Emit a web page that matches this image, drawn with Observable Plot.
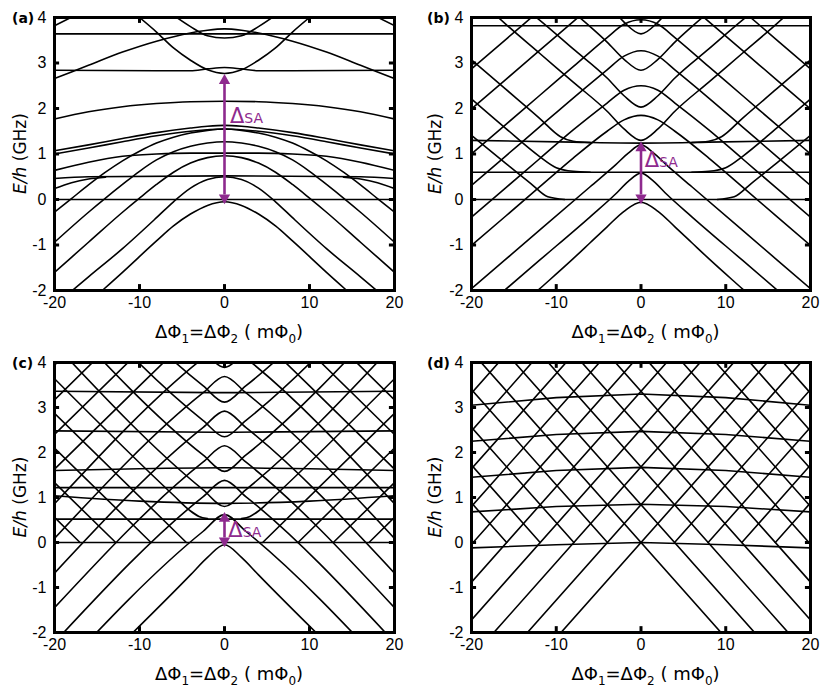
<!DOCTYPE html>
<html><head><meta charset="utf-8">
<script src="https://cdn.jsdelivr.net/npm/d3@7"></script>
<script src="https://cdn.jsdelivr.net/npm/@observablehq/plot@0.6"></script>
<style>
body{margin:0;background:#fff;}
#wrap{position:relative;width:830px;height:697px;background:#fff;}
.pn{position:absolute;}
</style></head><body><div id="wrap"></div>
<script>
const xTicks = [-20,-10,0,10,20];
const xTickLabels = ["-20","-10","0","10","20"];
const yTicks = [-2,-1,0,1,2,3,4];
const yTickLabels = ["-2","-1","0","1","2","3","4"];
const panelNames = ["(a)","(b)","(c)","(d)"];
const deltaLow = [-0.05, -0.05, -0.05];
const deltaHigh = [2.7, 1.22, 0.62];
const deltaTextPos = [[0.7,1.67],[0.5,0.7],[0.5,0.11]];

// panel (a): each curve is a list of x,y pairs
const curvesA = [
  [-20,-2.95,-16,-2.27,-12,-1.6,-8,-0.91,-6,-0.58,-4,-0.32,-2,-0.13,0,-0.05,2,-0.13,4,-0.32,6,-0.58,8,-0.91,12,-1.6,16,-2.27,20,-2.95],
  [-20,-2.33,-16,-1.7,-12,-1.08,-8,-0.4,-6,-0.05,-4,0.25,-2,0.44,0,0.5,2,0.44,4,0.25,6,-0.05,8,-0.4,12,-1.08,16,-1.7,20,-2.33],
  [-20,-1.6,-16,-0.94,-12,-0.28,-10,0.03,-8,0.33,-6,0.6,-4,0.8,-2,0.92,0,0.96,2,0.92,4,0.8,6,0.6,8,0.33,10,0.03,12,-0.28,16,-0.94,20,-1.6],
  [-20,-0.94,-16,-0.28,-14,0.03,-12,0.33,-10,0.62,-8,0.87,-6,1.05,-4,1.17,-2,1.24,0,1.27,2,1.24,4,1.17,6,1.05,8,0.87,10,0.62,12,0.33,14,0.03,16,-0.28,20,-0.94],
  [-20,-0.28,-18,0.02,-16,0.32,-14,0.6,-12,0.85,-10,1.06,-8,1.24,-6,1.37,-4,1.46,-2,1.52,0,1.55,2,1.52,4,1.46,6,1.37,8,1.24,10,1.06,12,0.85,14,0.6,16,0.32,18,0.02,20,-0.28],
  [-20,1.07,-16,1.2,-12,1.34,-8,1.47,-4,1.57,-2,1.61,0,1.63,2,1.61,4,1.57,8,1.47,12,1.34,16,1.2,20,1.07],
  [-20,1.0,-16,1.13,-12,1.27,-8,1.4,-4,1.5,0,1.55,4,1.5,8,1.4,12,1.27,16,1.13,20,1.0],
  [-20,0,-10,0,0,0,10,0,20,0],
  [-20,0.46,-16,0.5,0,0.52,16,0.5,20,0.46],
  [-20,0.24,-18,0.37,-16,0.45,-14,0.49],
  [14,0.49,16,0.45,18,0.37,20,0.24],
  [-20,0.64,-16,0.82,-12,0.95,-8,1.0,-4,1.02,0,1.02,4,1.02,8,1.0,12,0.95,16,0.82,20,0.64],
  [-20,1.77,-16,1.93,-12,2.04,-8,2.11,-4,2.15,0,2.16,4,2.15,8,2.11,12,2.04,16,1.93,20,1.77],
  [-20,2.66,-16,2.95,-12,3.24,-8,3.48,-4,3.66,-2,3.72,0,3.75,2,3.72,4,3.66,8,3.48,12,3.24,16,2.95,20,2.66],
  [-20,2.84,-8,2.83,-4,2.83,-2,2.87,0,2.9,2,2.87,4,2.83,8,2.83,20,2.84],
  [-10,4.0,-8,3.68,-6,3.33,-4,3.06,-2,2.85,0,2.77,2,2.85,4,3.06,6,3.33,8,3.68,10,4.0],
  [-20,3.64,0,3.64,20,3.64],
  [-6,4.05,-4,3.8,-2,3.6,0,3.55,2,3.6,4,3.8,6,4.05],
  [-20,3.82,-17,4.1],
  [17,4.1,20,3.82]
];

// panel (b)
const curvesB = [
  [-20,-3.3,-12,-1.97,-8,-1.3,-6,-0.95,-4,-0.6,-2,-0.26,0,-0.06,2,-0.26,4,-0.6,6,-0.95,8,-1.3,12,-1.97,20,-3.3],
  [-20,-2.62,-12,-1.34,-6,-0.38,-3,0.12,-1.5,0.4,0,0.58,1.5,0.4,3,0.12,6,-0.38,12,-1.34,20,-2.62],
  [-20,-1.96,-12,-0.68,-6,0.28,-3,0.76,-1.5,1.02,0,1.2,1.5,1.02,3,0.76,6,0.28,12,-0.68,20,-1.96],
  [-20,-1.01,-12,0.27,-8,0.91,-4,1.5,-2,1.75,0,1.85,2,1.75,4,1.5,8,0.91,12,0.27,20,-1.01],
  [-20,-0.39,-16,0.25,-12,0.89,-8,1.53,-4,2.12,-2,2.4,0,2.5,2,2.4,4,2.12,8,1.53,12,0.89,16,0.25,20,-0.39],
  [-20,0.31,-16,0.95,-12,1.59,-8,2.23,-4,2.85,-2,3.15,0,3.27,2,3.15,4,2.85,8,2.23,12,1.59,16,0.95,20,0.31],
  [-20,1.0,-16,1.64,-12,2.28,-8,2.92,-4,3.56,-2,3.85,0,3.95,2,3.85,4,3.56,8,2.92,12,2.28,16,1.64,20,1.0],
  [-20,1.99,-16,2.63,-12,3.27,-8,3.91,-6,4.23],
  [6,4.23,8,3.91,12,3.27,16,2.63,20,1.99],
  [-20,2.87,-16,3.51,-12,4.15],
  [12,4.15,16,3.51,20,2.87],
  [-18,4.2,-16,3.86,-12,3.22,-8,2.58,-4,1.94,-2,1.55,0,1.3,2,1.55,4,1.94,8,2.58,12,3.22,16,3.86,18,4.2],
  [-13,4.1,-12,3.95,-8,3.31,-4,2.67,-2,2.28,0,2.03,2,2.28,4,2.67,8,3.31,12,3.95,13,4.1],
  [-8,4.12,-6,3.8,-4,3.46,-2,3.08,0,2.84,2,3.08,4,3.46,6,3.8,8,4.12],
  [-3,4.1,-2,3.9,0,3.64,2,3.9,3,4.1],
  [-20,3.07,-16,2.43,-12,1.79,-9.5,1.38,-8,1.28,-6,1.25],
  [6,1.25,8,1.28,9.5,1.38,12,1.79,16,2.43,20,3.07],
  [-20,2.21,-16,1.57,-12,0.95,-10,0.7,-8,0.62,-6,0.6],
  [6,0.6,8,0.62,10,0.7,12,0.95,16,1.57,20,2.21],
  [-20,1.41,-16,0.8,-13,0.35,-11,0.06,-9,0.0],
  [9,0.0,11,0.06,13,0.35,16,0.8,20,1.41],
  [-20,0,0,0,20,0],
  [-20,0.6,0,0.6,20,0.6],
  [-20,1.3,-8,1.26,0,1.24,8,1.26,20,1.3],
  [-20,3.82,0,3.82,20,3.82]
];

// panel (c)
const curvesC = [
  [-20,-3.7,-4,-0.72,-2,-0.33,0,-0.05,2,-0.33,4,-0.72,20,-3.7],
  [-20,-2.99,-2.5,0.25,0,0.62,2.5,0.25,20,-2.99],
  [-20,-2.22,-2.5,1.02,0,1.38,2.5,1.02,20,-2.22],
  [-20,-1.45,-2.5,1.79,0,2.15,2.5,1.79,20,-1.45],
  [-20,-0.68,-2.5,2.56,0,2.92,2.5,2.56,20,-0.68],
  [-20,0.09,-2.5,3.33,0,3.69,2.5,3.33,20,0.09],
  [-20,0.86,-2.5,4.1,0,4.46,2.5,4.1,20,0.86],
  [-20,1.63,-10,3.48,-5,4.4],[5,4.4,10,3.48,20,1.63],
  [-20,2.4,-10,4.25],[10,4.25,20,2.4],
  [-20,3.17,-15,4.1],[15,4.1,20,3.17],
  [-20,3.94,-19,4.13],[19,4.13,20,3.94],
  [-20,3.64,-6,1.05,-4,0.7,-3,0.58,-2,0.53],[2,0.53,3,0.58,4,0.7,6,1.05,20,3.64],
  [-20,4.41,-2.5,1.17,0,0.8,2.5,1.17,20,4.41],
  [-20,5.18,-2.5,1.94,0,1.58,2.5,1.94,20,5.18],
  [-20,5.95,-2.5,2.71,0,2.35,2.5,2.71,20,5.95],
  [-20,6.72,-2.5,3.48,0,3.12,2.5,3.48,20,6.72],
  [-20,7.49,-2.5,4.25,0,3.89,2.5,4.25,20,7.49],
  [-20,2.87,-4.49,0],[4.49,0,20,2.87],
  [-20,2.1,-8.65,0],[8.65,0,20,2.1],
  [-20,1.33,-12.8,0],[12.8,0,20,1.33],
  [-20,0.56,-17,0],[17,0,20,0.56],
  [-20,0,0,0,20,0],
  [-20,0.52,0,0.52,20,0.52],
  [-20,1.04,-10,0.92,0,0.87,10,0.92,20,1.04],
  [-20,1.22,0,1.22,20,1.22],
  [-20,1.6,-10,1.64,0,1.66,10,1.64,20,1.6],
  [-20,2.48,0,2.45,20,2.48],
  [-20,3.36,0,3.33,20,3.36]
];

// panel (d)
const curvesD = [
  [-20,-4.24,20,4.24],[-20,-3.4,20,5.08],[-20,-2.56,20,5.92],[-20,-1.72,20,6.76],[-20,-0.88,20,7.6],[-20,-0.04,20,8.44],[-20,0.8,20,9.28],[-20,1.64,20,10.1],[-20,2.48,20,11],[-20,3.32,20,11.8],
  [20,-4.24,-20,4.24],[20,-3.4,-20,5.08],[20,-2.56,-20,5.92],[20,-1.72,-20,6.76],[20,-0.88,-20,7.6],[20,-0.04,-20,8.44],[20,0.8,-20,9.28],[20,1.64,-20,10.1],[20,2.48,-20,11],[20,3.32,-20,11.8],
  [3.96,0,20,3.4],[7.92,0,20,2.56],[11.9,0,20,1.72],[15.85,0,20,0.88],
  [-3.96,0,-20,3.4],[-7.92,0,-20,2.56],[-11.9,0,-20,1.72],[-15.85,0,-20,0.88],
  [-20,-0.12,-10,-0.05,0,0,10,-0.05,20,-0.12],
  [-20,0.68,-10,0.8,0,0.85,10,0.8,20,0.68],
  [-20,1.45,-10,1.6,0,1.67,10,1.6,20,1.45],
  [-20,2.25,-10,2.4,0,2.47,10,2.4,20,2.25],
  [-20,3.05,-10,3.22,0,3.3,10,3.22,20,3.05]
];

const panels = [
  {curves: curvesA, smooth: true,  left: 0,   top: 0,   w: 415, h: 345, m: {t:17,l:54,r:21,b:55}},
  {curves: curvesB, smooth: true,  left: 415, top: 0,   w: 415, h: 345, m: {t:17,l:56,r:20,b:55}},
  {curves: curvesC, smooth: true,  left: 0,   top: 345, w: 415, h: 352, m: {t:17,l:54,r:21,b:65}},
  {curves: curvesD, smooth: false, left: 415, top: 345, w: 415, h: 352, m: {t:17,l:56,r:20,b:65}}
];

const purple = "#8e2a8e";
const wrap = document.getElementById("wrap");

panels.forEach((p, pi) => {
  const rows = [];
  p.curves.forEach((pts, id) => {
    for (let j = 0; j < pts.length; j += 2) rows.push({id, x: pts[j], y: pts[j+1]});
  });
  rows.sort((a,b)=> a.id - b.id || a.x - b.x);
  const marks = [
    Plot.line(rows, {x:"x", y:"y", z:"id", stroke:"#000", strokeWidth:1.6, curve: p.smooth ? "monotone-x" : "linear", clip:true}),
    Plot.ruleY([-1,0,1,2,3], {x1:-20, x2:-19.4, stroke:"#000", strokeWidth:3}),
    Plot.ruleY([-1,0,1,2,3], {x1:19.4, x2:20, stroke:"#000", strokeWidth:3}),
    Plot.ruleX([-10,0,10], {y1:-2, y2:-1.87, stroke:"#000", strokeWidth:3}),
    Plot.ruleX([-10,0,10], {y1:3.87, y2:4, stroke:"#000", strokeWidth:3}),
    Plot.frame({stroke:"#000", strokeWidth:3}),
    Plot.axisX(xTicks, {tickSize:0, tickPadding:6, tickFormat: d => xTickLabels[xTicks.indexOf(d)], fontSize:16, fontFamily:"Liberation Sans", fill:"#000"}),
    Plot.axisY(yTicks, {tickSize:0, tickPadding:8, tickFormat: d => yTickLabels[yTicks.indexOf(d)], fontSize:16, fontFamily:"Liberation Sans", fill:"#000"})
  ];
  if (pi < 3) {
    marks.push(Plot.ruleX([0], {y1: deltaLow[pi] + 0.15, y2: deltaHigh[pi] - 0.15, stroke: purple, strokeWidth: 2.6}));
    marks.push(Plot.dot([deltaHigh[pi]], {x: 0, y: d => d, symbol: "triangle", fill: purple, stroke: "none", r: 4.2, dy: 4}));
    marks.push(Plot.dot([deltaLow[pi]], {x: 0, y: d => d, symbol: "triangle", fill: purple, stroke: "none", r: 4.2, dy: -4, rotate: 180}));
  }
  const fig = Plot.plot({
    width: p.w, height: p.h,
    marginTop: p.m.t, marginLeft: p.m.l, marginRight: p.m.r, marginBottom: p.m.b,
    x: {domain: [-20, 20], label: null},
    y: {domain: [-2, 4], label: null},
    style: {background: "#fff", color: "#000", overflow: "visible"},
    marks
  });
  const div = document.createElement("div");
  div.className = "pn";
  div.style.left = p.left + "px"; div.style.top = p.top + "px";
  div.appendChild(fig);
  wrap.appendChild(div);
  const svg = d3.select(fig);
  const plotL = p.m.l, plotR = p.w - p.m.r, plotT = p.m.t, plotB = p.h - p.m.b;
  svg.append("text").attr("x", 12).attr("y", plotT + 6).attr("text-anchor", "start").attr("font-family", "DejaVu Sans").attr("font-weight", "bold").attr("font-size", 14).attr("fill", "#000").text(panelNames[pi]);
  const yl = svg.append("text").attr("transform", `translate(26,${(plotT+plotB)/2}) rotate(-90)`).attr("text-anchor", "middle").attr("font-family", "DejaVu Sans").attr("font-size", 17).attr("fill", "#000");
  yl.append("tspan").attr("font-style", "italic").text("E/h");
  yl.append("tspan").text(" (GHz)");
  const xl = svg.append("text").attr("x", (plotL+plotR)/2 + 5).attr("y", plotB + 48).attr("text-anchor", "middle").attr("font-family", "DejaVu Sans").attr("font-size", 18).attr("fill", "#000");
  xl.append("tspan").text("ΔΦ");
  xl.append("tspan").attr("font-size", 12).attr("dy", 5).text("1");
  xl.append("tspan").attr("dy", -5).text("=ΔΦ");
  xl.append("tspan").attr("font-size", 12).attr("dy", 5).text("2");
  xl.append("tspan").attr("dy", -5).text(" ( mΦ");
  xl.append("tspan").attr("font-size", 12).attr("dy", 5).text("0");
  xl.append("tspan").attr("dy", -5).text(")");
  if (pi < 3) {
    const sx = fig.scale("x"), sy = fig.scale("y");
    const t = svg.append("text").attr("x", sx.apply(deltaTextPos[pi][0])).attr("y", sy.apply(deltaTextPos[pi][1])).attr("text-anchor", "start").attr("font-family", "DejaVu Sans").attr("fill", purple);
    t.append("tspan").attr("font-size", 21).text("Δ");
    t.append("tspan").attr("font-size", 14).text("SA");
  }
});
</script></body></html>
